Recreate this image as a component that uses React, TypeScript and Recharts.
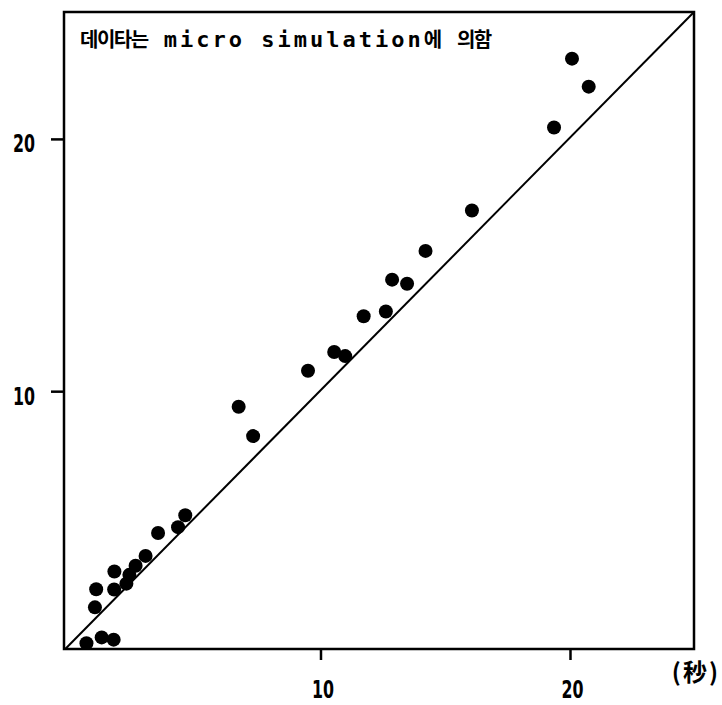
import { ScatterChart, Scatter, XAxis, YAxis, ReferenceArea, ReferenceLine } from 'recharts';

// measured (x) vs simulated (y) delay, seconds
const xValues = [
  20.06, 20.73, 19.34, 16.05, 14.19, 12.85, 13.45, 12.6, 11.71, 10.53,
  10.97, 9.48, 6.7, 7.28, 4.56, 4.27, 3.47, 2.97, 2.57, 2.32,
  2.2, 1.72, 1.71, 0.99, 0.94, 1.69, 1.21, 0.6,
];
const yValues = [
  23.2, 22.09, 20.47, 17.18, 15.58, 14.44, 14.28, 13.18, 12.99, 11.57,
  11.41, 10.83, 9.4, 8.24, 5.1, 4.63, 4.4, 3.49, 3.1, 2.74,
  2.39, 2.87, 2.16, 2.17, 1.45, 0.17, 0.26, 0.03,
];
const xTicks = [10, 20];
const yTicks = [10, 20];
const xDomain: [number, number] = [-0.3, 24.95];
const yDomain: [number, number] = [-0.2, 25.05];
const titleParts = [
  { t: '데이타는', ko: true },
  { t: ' micro simulation', ko: false },
  { t: '에', ko: true },
  { t: ' ', ko: false },
  { t: '의함', ko: true },
];
const unitLabel = '(秒)';

const points = xValues.map((x, i) => ({ x, y: yValues[i] }));

const FONT = "'Liberation Sans Narrow', 'DejaVu Sans Condensed', 'DejaVu Sans', sans-serif";

const XTick = (p: any) => {
  const s = String(p.payload.value);
  const x = Number(p.x);
  const y = Number(p.y);
  return (
    <g>
      <path d={`M${x},${y - 30}V${y - 19}`} stroke="#000" strokeWidth={2.5} fill="none" />
      <text x={x + 2} y={y + 19} textAnchor="middle" fontSize={24} fontWeight="bold" fontFamily={FONT}
        fill="#000" textLength={11 * s.length} lengthAdjust="spacingAndGlyphs">{s}</text>
    </g>
  );
};

const YTick = (p: any) => {
  const s = String(p.payload.value);
  const x = Number(p.x);
  const y = Number(p.y);
  return (
    <g>
      <path d={`M${x + 14},${y}H${x + 27}`} stroke="#000" strokeWidth={2.5} fill="none" />
      <text x={x - 2} y={y + 13} textAnchor="end" fontSize={24} fontWeight="bold" fontFamily={FONT}
        fill="#000" textLength={11 * s.length} lengthAdjust="spacingAndGlyphs">{s}</text>
    </g>
  );
};

const Dot = (p: any) => <circle cx={p.cx} cy={p.cy} r={7} fill="#000" />;

const Title = (p: any) => {
  const vb = p.viewBox ?? { x: 0, y: 0 };
  return (
    <text x={vb.x + 16} y={vb.y + 35} fill="#000" fontWeight="bold">
      {titleParts.map((s, i) =>
        s.ko ? (
          <tspan key={i} fontSize={20} letterSpacing={-1.5} fontFamily="'Noto Sans CJK KR', sans-serif">{s.t}</tspan>
        ) : (
          <tspan key={i} fontSize={22} letterSpacing={3} fontFamily="'DejaVu Sans Mono', monospace" xmlSpace="preserve">{s.t}</tspan>
        ),
      )}
    </text>
  );
};

const Unit = (p: any) => {
  const vb = p.viewBox ?? { x: 0, y: 0, width: 0, height: 0 };
  return (
    <text x={vb.x + vb.width + 26} y={vb.y + 32} textAnchor="end" fontSize={24} letterSpacing={2}
      fontWeight="bold" fontFamily="'Noto Sans CJK JP', sans-serif" fill="#000">{unitLabel}</text>
  );
};

export default function App() {
  return (
    <div style={{ position: 'absolute', left: 0, top: 0, background: '#fff' }}>
      <ScatterChart width={722} height={705} margin={{ top: 12, right: 28, left: 10, bottom: 8 }}>
        <XAxis type="number" dataKey="x" domain={xDomain} ticks={xTicks} allowDataOverflow
          axisLine={false} tickLine={false} tickSize={10} tickMargin={20} height={48}
          tick={XTick} label={Unit} />
        <YAxis type="number" dataKey="y" domain={yDomain} ticks={yTicks} allowDataOverflow
          axisLine={false} tickLine={false} tickSize={12} tickMargin={15} width={54}
          tick={YTick} />
        <ReferenceArea x1={xDomain[0]} x2={xDomain[1]} y1={yDomain[0]} y2={yDomain[1]}
          fill="none" fillOpacity={0} stroke="#000" strokeWidth={2.5} ifOverflow="visible" label={Title} />
        <ReferenceLine segment={[{ x: -0.25, y: -0.2 }, { x: 24.95, y: 25.05 }]}
          stroke="#000" strokeWidth={2} ifOverflow="visible" />
        <Scatter data={points} shape={Dot} isAnimationActive={false} />
      </ScatterChart>
    </div>
  );
}
